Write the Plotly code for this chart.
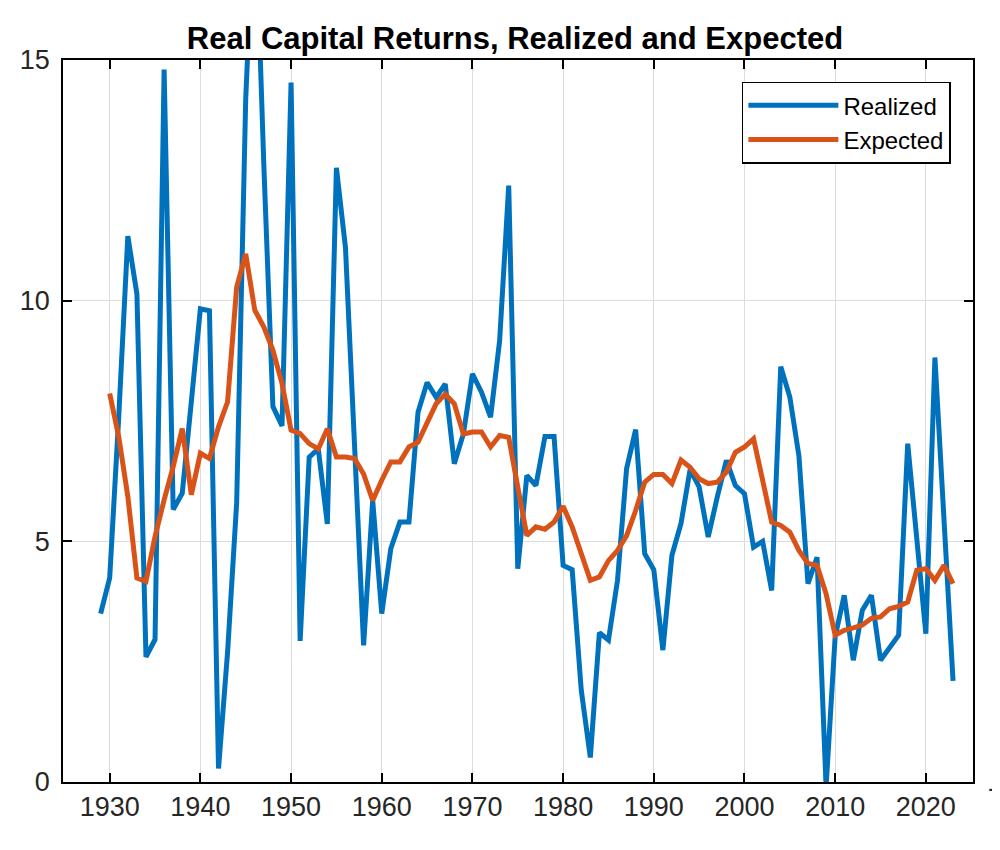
import plotly.graph_objects as go

years_realized = list(range(1929, 2024))
realized = [3.5, 4.24, 7.6, 11.34, 10.14, 2.6, 2.96, 14.8, 5.66, 6.0,
            7.9, 9.83, 9.79, 0.28, 2.7, 5.8, 14.2, 18.5, 12.8, 7.8,
            7.4, 14.53, 2.93, 6.75, 6.92, 5.36, 12.76, 11.1, 7.0, 2.84,
            5.85, 3.5, 4.85, 5.4, 5.4, 7.68, 8.3, 7.99, 8.27, 6.61,
            7.23, 8.48, 8.1, 7.58, 9.17, 12.39, 4.43, 6.37, 6.16, 7.18,
            7.18, 4.5, 4.41, 1.91, 0.51, 3.1, 2.95, 4.19, 6.51, 7.32,
            4.74, 4.41, 2.74, 4.71, 5.37, 6.49, 6.13, 5.09, 5.92, 6.68,
            6.16, 5.99, 4.88, 5.0, 3.98, 8.63, 8.0, 6.78, 4.12, 4.67,
            -0.1, 3.02, 3.88, 2.53, 3.57, 3.88, 2.53, 2.81, 3.05, 7.03,
            5.09, 3.08, 8.82, 5.4, 2.1]

years_expected = list(range(1930, 2024))
expected = [8.07, 7.17, 5.93, 4.24, 4.17, 5.1, 5.86, 6.55, 7.34, 5.97,
            6.83, 6.72, 7.38, 7.9, 10.28, 10.97, 9.8, 9.45, 8.97, 8.28,
            7.31, 7.24, 7.03, 6.92, 7.34, 6.75, 6.75, 6.72, 6.4, 5.85,
            6.27, 6.65, 6.65, 6.96, 7.06, 7.44, 7.86, 8.06, 7.86, 7.23,
            7.27, 7.27, 6.96, 7.2, 7.16, 6.13, 5.12, 5.3, 5.25, 5.4,
            5.73, 5.3, 4.74, 4.19, 4.26, 4.6, 4.81, 5.12, 5.64, 6.23,
            6.39, 6.39, 6.2, 6.69, 6.54, 6.3, 6.2, 6.23, 6.44, 6.85,
            6.96, 7.13, 6.27, 5.4, 5.33, 5.19, 4.81, 4.54, 4.5, 3.91,
            3.05, 3.15, 3.2, 3.26, 3.4, 3.43, 3.6, 3.65, 3.74, 4.4,
            4.43, 4.19, 4.5, 4.12]

x_ticks = [1930, 1940, 1950, 1960, 1970, 1980, 1990, 2000, 2010, 2020]
y_ticks = [0, 5, 10, 15]

BLUE = "#0072BD"
ORANGE = "#D95319"
FONT = "Liberation Sans, Arial, sans-serif"

fig = go.Figure()
fig.add_trace(go.Scatter(x=years_realized, y=realized, mode="lines", name="Realized",
                         line=dict(color=BLUE, width=5)))
fig.add_trace(go.Scatter(x=years_expected, y=expected, mode="lines", name="Expected",
                         line=dict(color=ORANGE, width=5)))

axis_common = dict(showline=True, linecolor="black", linewidth=1.5, mirror="ticks",
                   ticks="inside", ticklen=9, tickwidth=1.5, tickcolor="black",
                   showgrid=True, gridcolor="#dcdcdc", gridwidth=1, zeroline=False,
                   tickfont=dict(family=FONT, size=27, color="#262626"))

W, H = 992, 842  # page body adds an 8px offset
fig.update_layout(
    width=W, height=H,
    paper_bgcolor="white", plot_bgcolor="white",
    margin=dict(l=49, r=27, t=52, b=68),
    title=dict(text="<b>Real Capital Returns, Realized and Expected</b>",
               x=(515 - 8) / W, xanchor="center", y=1 - 30 / H, yanchor="middle",
               font=dict(family=FONT, size=31, color="black")),
    xaxis=dict(range=[1924.85, 2025.2], tickvals=x_ticks, **axis_common),
    yaxis=dict(range=[0, 15], tickvals=y_ticks, ticklabelstandoff=6, **axis_common),
    legend=dict(x=0.9757, xanchor="right", y=0.97, yanchor="top",
                bgcolor="white", bordercolor="black", borderwidth=1.5,
                font=dict(family=FONT, size=24, color="black"),
                itemwidth=90, tracegroupgap=0),
    showlegend=True,
)

fig.add_annotation(text="-", xref="paper", yref="paper", x=(993 - 57) / 916,
                   y=-6 / 722, showarrow=False, xanchor="center", yanchor="middle",
                   font=dict(family=FONT, size=28, color="#262626"))

fig.write_html("out.html")
